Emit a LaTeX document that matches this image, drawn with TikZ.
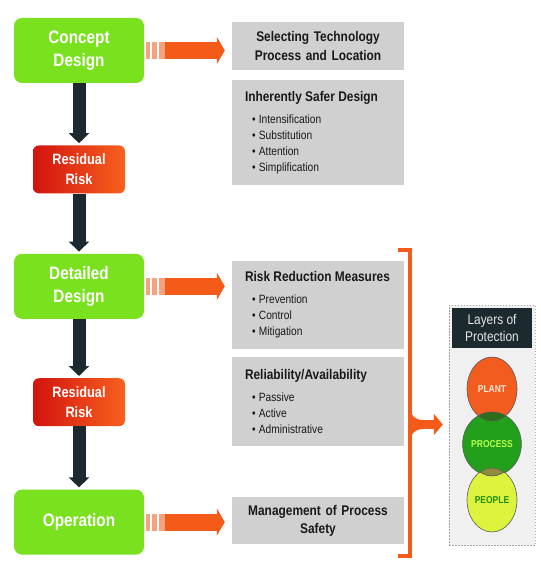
\documentclass[tikz,border=0pt]{standalone}
\usepackage{fontspec}
\setmainfont{Liberation Sans}[FakeStretch=0.85]
\usetikzlibrary{arrows.meta, positioning, shapes.geometric}
\definecolor{stagegreen}{HTML}{7AE11E}
\definecolor{riskred}{HTML}{D2140F}
\definecolor{riskorange}{HTML}{F8601E}
\definecolor{darkslate}{HTML}{1C2A30}
\definecolor{feedorange}{HTML}{F45A18}
\definecolor{stripeorange}{HTML}{F6A27E}
\definecolor{boxgray}{HTML}{D0D0D0}
\definecolor{plantc}{HTML}{F25C1E}
\definecolor{processc}{HTML}{22A01C}
\definecolor{peoplec}{HTML}{DCF23C}
\definecolor{overlapa}{HTML}{2C6E1C}
\definecolor{overlapb}{HTML}{8E8C3C}
\newcommand\boxhead{\fontsize{14}{19}\selectfont\bfseries}
\newcommand\boxitem{\fontsize{12}{16}\selectfont}

\begin{document}
\begin{tikzpicture}[
    x=1pt, y=-1pt,
    stage/.style={rectangle, rounded corners=8pt, fill=stagegreen, text=white, minimum width=130pt, minimum height=65pt, align=center, font=\fontsize{18}{23}\selectfont\bfseries},
    residual/.style={rectangle, rounded corners=6pt, left color=riskred, right color=riskorange, text=white, minimum width=92pt, minimum height=48pt, align=center, font=\fontsize{15}{20}\selectfont\bfseries},
    graybox/.style={rectangle, fill=boxgray, text=black!90, minimum width=172pt, inner xsep=13pt, text width=146pt},
    panel/.style={rectangle, draw=gray!70, fill=gray!12, dash pattern=on 1.5pt off 1.5pt, minimum width=86pt, minimum height=240pt},
    header/.style={rectangle, fill=darkslate, text=white!90!black, minimum width=80pt, minimum height=40pt, align=center, font=\fontsize{14}{17}\selectfont},
    layer/.style={ellipse, draw=black!65, line width=0.6pt, minimum width=50pt, minimum height=64pt, inner sep=0pt, font=\fontsize{10}{12}\selectfont\bfseries},
    down/.style={darkslate, line width=13pt, -{Triangle[width=20pt,length=10pt]}, shorten >=2pt},
    stripes/.style={stripeorange, line width=17pt, dash pattern=on 4pt off 2pt on 5pt off 2pt on 6pt off 0pt},
    feed/.style={feedorange, line width=17pt, -{Triangle[width=27pt,length=8pt]}},
    bracket/.style={feedorange, line width=3.5pt},
    outarrow/.style={feedorange, line width=9pt, -{Triangle[width=21pt,length=9pt]}, shorten >=6pt}
]
\fill[white] (0,0) rectangle (540,561);

% stages
\node[stage] (concept) at (79,50.5) {Concept\\Design};
\node[residual, below=62pt of concept] (risk1) {Residual\\Risk};
\node[stage, below=60pt of risk1] (detailed) {Detailed\\Design};
\node[residual, below=59pt of detailed] (risk2) {Residual\\Risk};
\node[stage, below=63pt of risk2] (operation) {Operation};

% measures
\node[graybox, minimum height=48pt, align=center, font=\boxhead] (select) at (318,46) {Selecting Technology\\Process and Location};
\node[graybox, minimum height=105pt, align=left] (safer) at (318,132.5) {{\boxhead Inherently Safer Design\par}\vspace{6pt}{\boxitem\leftskip=7pt \textbullet~Intensification\\\textbullet~Substitution\\\textbullet~Attention\\\textbullet~Simplification\par}};
\node[graybox, minimum height=88pt, align=left] (riskred) at (318,305) {{\boxhead Risk Reduction Measures\par}\vspace{6pt}{\boxitem\leftskip=7pt \textbullet~Prevention\\\textbullet~Control\\\textbullet~Mitigation\par}};
\node[graybox, minimum height=89pt, align=left] (reliab) at (318,401.5) {{\boxhead Reliability/Availability\par}\vspace{6pt}{\boxitem\leftskip=7pt \textbullet~Passive\\\textbullet~Active\\\textbullet~Administrative\par}};
\node[graybox, minimum height=47pt, align=center, font=\fontsize{14}{18}\selectfont\bfseries] (mgmt) at (318,520.5) {Management of Process\\Safety};

% layers of protection
\node[panel] (layers) at (492,425) {};
\node[header, below=3pt of layers.north] (lophead) {Layers of\\Protection};
\node[layer, fill=plantc, text=white!85!orange] (plant) at (492,389) {PLANT};
\node[layer, fill=processc, text=green!40!yellow!70!white,
      path picture={\fill[overlapa] (plant.center) ellipse [x radius=25pt, y radius=32pt];
                    \draw[black!65, line width=0.6pt] (plant.center) ellipse [x radius=25pt, y radius=32pt];}] (process) at (492,444) {PROCESS};
\node[layer, fill=peoplec, text=processc!90!black,
      path picture={\fill[overlapb] (process.center) ellipse [x radius=25pt, y radius=32pt];
                    \draw[black!65, line width=0.6pt] (process.center) ellipse [x radius=25pt, y radius=32pt];}] (people) at (492,500) {PEOPLE};

% flow
\foreach \a/\b in {concept/risk1, risk1/detailed, detailed/risk2, risk2/operation}
    \draw[down] (\a.south) -- (\b.north);
\foreach \src/\dst in {concept/select, detailed/riskred, operation/mgmt}{
    \draw[stripes] ([xshift=2pt]\src.east) -- ++(19,0);
    \draw[feed] ([xshift=21pt]\src.east) -- ([xshift=-7pt]\src.east -| \dst.west);
}

% bracket
\draw[bracket] (398,250) -| (410,556) -- (398,556);
\coordinate (bmid) at (410,424.5);
\fill[feedorange] (410,405) .. controls (411,417) and (415,420) .. (424,420) -- (424,429) .. controls (415,429) and (411,432) .. (410,444) -- cycle;
\draw[outarrow] (bmid) -- (bmid -| layers.west);

\end{tikzpicture}
\end{document}
